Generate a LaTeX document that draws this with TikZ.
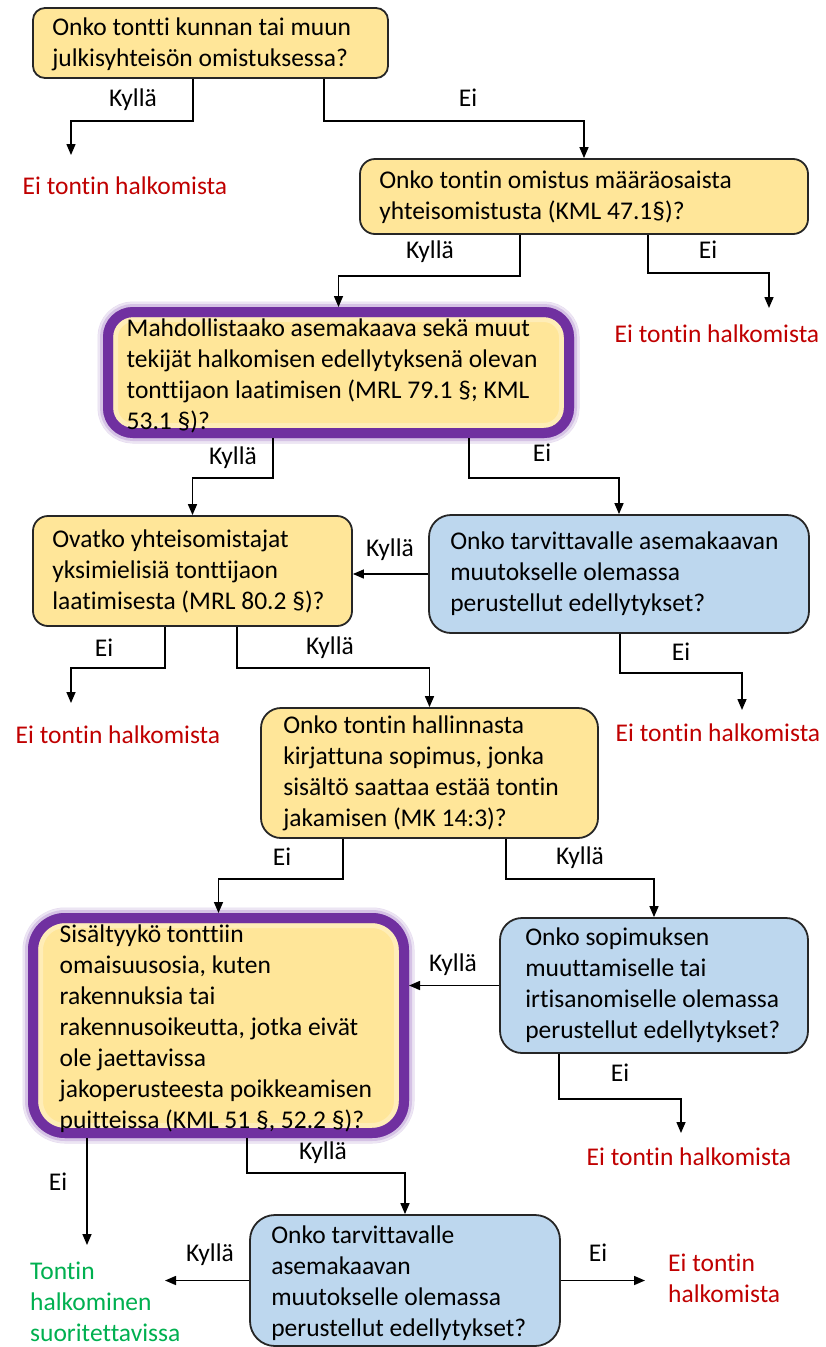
\documentclass[tikz,border=0pt]{standalone}
\usepackage{fontspec}
\setmainfont{Carlito}[RawFeature=-liga]
\usetikzlibrary{arrows.meta,calc}
\definecolor{yfill}{HTML}{FFE699}
\definecolor{bfill}{HTML}{BDD7EE}
\definecolor{pborder}{HTML}{7030A0}
\definecolor{pglow}{HTML}{9A6FC2}
\definecolor{redt}{HTML}{C00000}
\definecolor{greent}{HTML}{00B050}
\begin{document}
\begin{tikzpicture}[x=1pt,y=-1pt,
  every node/.style={font=\fontsize{25.5}{31}\selectfont},
  ybox/.style={draw=black!85, line width=1.8pt, fill=yfill, rounded corners=#1},
  ybox/.default=15pt,
  bbox/.style={draw=black!85, line width=1.8pt, fill=bfill, rounded corners=#1},
  bbox/.default=22pt,
  pbox/.style={fill=yfill, draw=pborder, line width=10pt, rounded corners=#1,
    preaction={draw=pglow, line width=21pt, opacity=0.25},
    preaction={draw=pglow, line width=16pt, opacity=0.45},
    postaction={draw=white, line width=20pt, opacity=0.3},
    postaction={draw=pborder, line width=10pt}},
  pbox/.default=28pt,
  txt/.style={align=left, inner sep=0pt, anchor=west},
  redtxt/.style={text=redt, inner sep=0pt},
  grtxt/.style={text=greent, inner sep=0pt, align=left, anchor=west},
  lab/.style={inner sep=0pt},
  arr/.style={-{Triangle[width=9pt,length=11pt]}, line width=1.5pt, black}
]
\useasboundingbox (0,0) rectangle (825,1347);
\fill[white] (0,0) rectangle (825,1347);

% boxes
\node[ybox=12pt, minimum width=355pt, minimum height=70pt] (b1) at (210.5,43) {};
\node[txt] (t1) at ([xshift=20pt,yshift=-1pt]b1.west) {Onko tontti kunnan tai muun\\julkisyhteisön omistuksessa?};

\node[ybox, minimum width=448pt, minimum height=75pt] (b2) at (584,196.5) {};
\node[txt] (t2) at ([xshift=20pt,yshift=-1pt]b2.west) {Onko tontin omistus määräosaista\\yhteisomistusta (KML 47.1§)?};

\node[pbox=25pt, minimum width=461pt, minimum height=121pt] (b3) at (338.5,372.5) {};
\node[txt] (t3) at ([xshift=23.5pt,yshift=-3pt]b3.west) {Mahdollistaako asemakaava sekä muut\\tekijät halkomisen edellytyksenä olevan\\tonttijaon laatimisen (MRL 79.1 §; KML\\53.1 §)?};

\node[ybox, minimum width=319pt, minimum height=110pt] (b4) at (192.5,571) {};
\node[txt] (t4) at ([xshift=20pt]b4.west) {Ovatko yhteisomistajat\\yksimielisiä tonttijaon\\laatimisesta (MRL 80.2 §)?};

\node[bbox, minimum width=380pt, minimum height=118pt] (b5) at (619,574) {};
\node[txt] (t5) at ([xshift=22pt]b5.west) {Onko tarvittavalle asemakaavan\\muutokselle olemassa\\perustellut edellytykset?};

\node[ybox=20pt, minimum width=337pt, minimum height=130pt] (b6) at (429.5,773) {};
\node[txt] (t6) at ([xshift=23pt]b6.west) {Onko tontin hallinnasta\\kirjattuna sopimus, jonka\\sisältö saattaa estää tontin\\jakamisen (MK 14:3)?};

\node[bbox, minimum width=308pt, minimum height=135pt] (b7) at (654,985.5) {};
\node[txt] (t7) at ([xshift=26pt]b7.west) {Onko sopimuksen\\muuttamiselle tai\\irtisanomiselle olemassa\\perustellut edellytykset?};

\node[pbox=32pt, minimum width=371pt, minimum height=215pt] (b8) at (218.5,1025.5) {};
\node[txt] (t8) at ([xshift=31.5pt,yshift=-3pt]b8.west) {Sisältyykö tonttiin\\omaisuusosia, kuten\\rakennuksia tai\\rakennusoikeutta, jotka eivät\\ole jaettavissa\\jakoperusteesta poikkeamisen\\puitteissa (KML 51 §, 52.2 §)?};

\node[bbox=25pt, minimum width=310pt, minimum height=131pt] (b9) at (405,1280.5) {};
\node[txt] (t9) at ([xshift=22pt,yshift=-3pt]b9.west) {Onko tarvittavalle\\asemakaavan\\muutokselle olemassa\\perustellut edellytykset?};

% outcome texts
\node[redtxt] (r1) at (125,186) {Ei tontin halkomista};
\node[redtxt] (r2) at (717,334) {Ei tontin halkomista};
\node[redtxt] (r3) at (118,735) {Ei tontin halkomista};
\node[redtxt] (r4) at (718,733) {Ei tontin halkomista};
\node[redtxt] (r5) at (689,1157) {Ei tontin halkomista};
\node[redtxt, align=left, anchor=west] (r6) at (668,1278) {Ei tontin\\halkomista};
\node[grtxt] (g1) at (30,1302) {Tontin\\halkominen\\suoritettavissa};

% arrow tips (free ends)
\coordinate (e1) at (71,155);
\coordinate (e2) at (769,308);
\coordinate (e3) at (71,703);
\coordinate (e4) at (742,710);
\coordinate (e5) at (681,1133);
\coordinate (e6) at (87,1245);
\coordinate (e7) at (165,1280.5);
\coordinate (e8) at (645,1280.5);

% connectors
\draw[arr] ([xshift=-17.5pt]b1.south) -- ++(0,42) -| (e1);
\draw[arr] ([xshift=113.5pt]b1.south) -- ++(0,42) -| (b2.north);
\draw[arr] ([xshift=-64pt]b2.south) -- ++(0,41) -| (b3.north);
\draw[arr] ([xshift=64pt]b2.south) -- ++(0,38) -| (e2);
\draw[arr] ([xshift=-65.5pt]b3.south) -- ++(0,40) -| (b4.north);
\draw[arr] ([xshift=130.5pt]b3.south) -- ++(0,40) -| (b5.north);
\draw[arr] (b5.west) -- (b5.west -| b4.east);
\draw[arr] ([xshift=-27.5pt]b4.south) -- ++(0,41) -| (e3);
\draw[arr] ([xshift=44.5pt]b4.south) -- ++(0,41) -| (b6.north);
\draw[arr] ([xshift=1pt]b5.south) -- ++(0,39) -| (e4);
\draw[arr] ([xshift=-86.5pt]b6.south) -- ++(0,40) -| (b8.north);
\draw[arr] ([xshift=76.5pt]b6.south) -- ++(0,40) -| (b7.north);
\draw[arr] (b7.west) -- (b7.west -| b8.east);
\draw[arr] ([xshift=-95pt]b7.south) -- ++(0,45) -| (e5);
\draw[arr] ([xshift=-131.5pt]b8.south) -- (e6);
\draw[arr] ([xshift=28.5pt]b8.south) -- ++(0,35) -| (b9.north);
\draw[arr] (b9.west) -- (e7);
\draw[arr] (b9.east) -- (e8);

% labels
\node[lab] (l1) at (133,100) {Kyllä};
\node[lab] (l2) at (468,98) {Ei};
\node[lab] (l3) at (430,252) {Kyllä};
\node[lab] (l4) at (708,250) {Ei};
\node[lab] (l5) at (233,458) {Kyllä};
\node[lab] (l6) at (542,453) {Ei};
\node[lab] (l7) at (390,550) {Kyllä};
\node[lab] (l8) at (104,648) {Ei};
\node[lab] (l9) at (330,648) {Kyllä};
\node[lab] (l10) at (681,652) {Ei};
\node[lab] (l11) at (282,857) {Ei};
\node[lab] (l12) at (580,858) {Kyllä};
\node[lab] (l13) at (453,965) {Kyllä};
\node[lab] (l14) at (620,1073) {Ei};
\node[lab] (l15) at (58,1182) {Ei};
\node[lab] (l16) at (323,1153) {Kyllä};
\node[lab] (l17) at (210,1255) {Kyllä};
\node[lab] (l18) at (598,1253) {Ei};
\end{tikzpicture}
\end{document}
